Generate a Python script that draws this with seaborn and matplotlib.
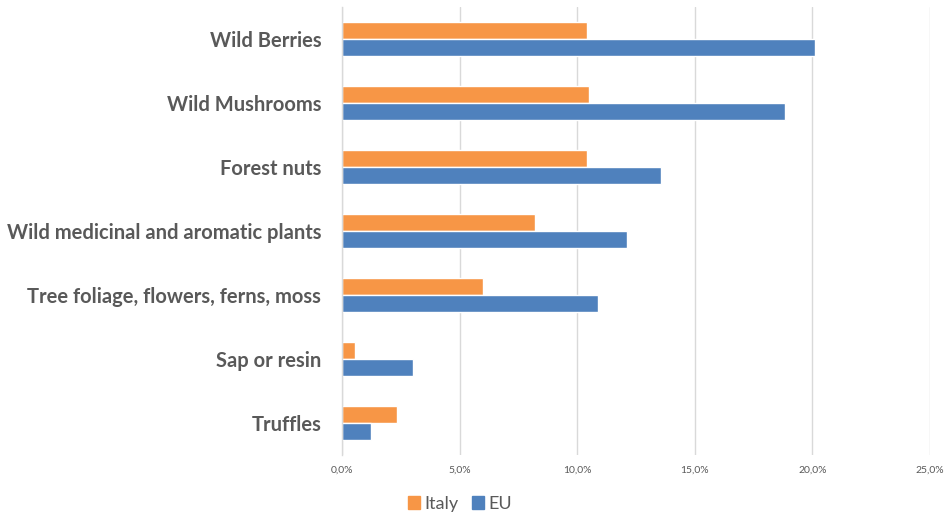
import matplotlib
matplotlib.use("Agg")
import matplotlib.pyplot as plt
import matplotlib.ticker as mticker
import seaborn as sns
import pandas as pd

categories = [
    "Wild Berries",
    "Wild Mushrooms",
    "Forest nuts",
    "Wild medicinal and aromatic plants",
    "Tree foliage, flowers, ferns, moss",
    "Sap or resin",
    "Truffles",
]
italy = [10.4, 10.5, 10.4, 8.2, 6.0, 0.55, 2.35]
eu = [20.1, 18.85, 13.55, 12.1, 10.9, 3.0, 1.25]
series = ["Italy", "EU"]
colors = ["#F79646", "#4F81BD"]
x_ticks = [0, 5, 10, 15, 20, 25]

df = pd.DataFrame({
    "category": categories * 2,
    "value": italy + eu,
    "series": ["Italy"] * len(categories) + ["EU"] * len(categories),
})

sns.set_theme(style="white")
plt.rcParams["font.family"] = ["Lato", "DejaVu Sans"]

fig = plt.figure(figsize=(9.45, 5.15), dpi=100)
ax = fig.add_axes([342 / 945, 1 - 455 / 515, (930 - 342) / 945, (455 - 7) / 515])

sns.barplot(
    data=df, x="value", y="category", hue="series", order=categories,
    hue_order=series, palette=colors, orient="h", width=0.52,
    saturation=1, ax=ax, legend=False,
)

ax.set_xlim(0, 25)
ax.set_ylim(len(categories) - 0.5, -0.5)
ax.set_xticks(x_ticks)
ax.xaxis.set_major_formatter(
    mticker.FuncFormatter(lambda v, _: f"{v:.1f}%".replace(".", ","))
)
ax.grid(axis="x", color="#D9D9D9", linewidth=1)
ax.set_axisbelow(True)
for s in ["top", "right", "bottom"]:
    ax.spines[s].set_visible(False)
ax.spines["left"].set_color("#D9D9D9")
ax.spines["left"].set_linewidth(1)
ax.set_xlabel("")
ax.set_ylabel("")
ax.tick_params(axis="x", length=0, pad=8, labelsize=7.5, labelcolor="#595959")
ax.tick_params(axis="y", length=0, pad=15, labelsize=14.5, labelcolor="#595959")
for lbl in ax.get_yticklabels():
    lbl.set_fontweight("bold")

handles = [plt.Rectangle((0, 0), 1, 1, color=c) for c in colors]
fig.legend(
    handles, series, loc="center", bbox_to_anchor=(460 / 945, 1 - 504 / 515),
    ncol=2, frameon=False, fontsize=13, labelcolor="#595959",
    handlelength=0.7, handleheight=0.7, handletextpad=0.25, columnspacing=0.7,
)

fig.savefig("out.png", dpi=100, facecolor="white")
